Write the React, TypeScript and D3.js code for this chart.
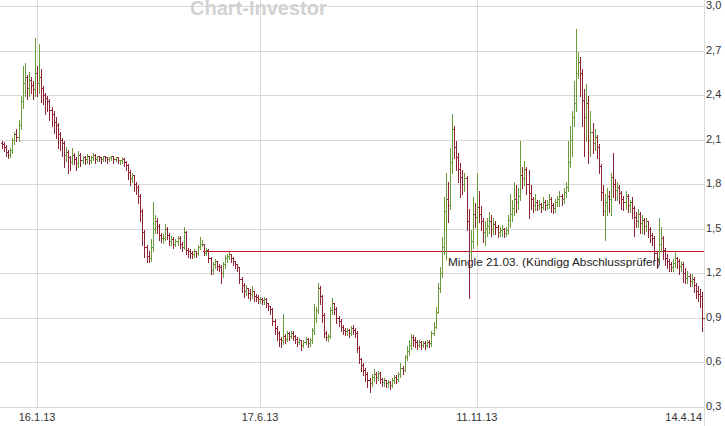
import React, { useEffect } from 'react';
import { scaleLinear, range } from 'd3';

// daily bars, first bar Mon 24.12.2012, last bar Fri 11.4.2014 (weekdays)
const startDate = '2012-12-24';

const closes: number[] = [
  2.07, 2.05, 2.02, 2.0, 2.03, 2.1, 2.14, 2.12, 2.2, 2.36,
  2.48, 2.52, 2.45, 2.5, 2.47, 2.44, 2.55, 2.48, 2.52, 2.45,
  2.4, 2.38, 2.36, 2.3, 2.27, 2.22, 2.2, 2.14, 2.1, 2.08,
  2.0, 2.02, 1.98, 1.95, 2.0, 1.97, 1.94, 2.0, 1.96, 1.98,
  1.97, 1.99, 1.96, 1.98, 2.0, 1.97, 1.99, 1.98, 1.97, 1.99,
  1.98, 1.97, 1.98, 1.99, 1.97, 1.98, 1.96, 1.96, 1.97, 1.95,
  1.93, 1.88, 1.84, 1.86, 1.8, 1.78, 1.72, 1.62, 1.48, 1.38,
  1.32, 1.3, 1.38, 1.5, 1.55, 1.52, 1.46, 1.44, 1.44, 1.5,
  1.46, 1.42, 1.43, 1.4, 1.42, 1.44, 1.4, 1.38, 1.48, 1.36,
  1.35, 1.34, 1.33, 1.35, 1.34, 1.38, 1.4, 1.4, 1.34, 1.36,
  1.3, 1.22, 1.26, 1.28, 1.25, 1.24, 1.2, 1.26, 1.3, 1.32,
  1.33, 1.3, 1.28, 1.26, 1.24, 1.16, 1.12, 1.08, 1.1, 1.07,
  1.06, 1.08, 1.05, 1.04, 1.03, 1.03, 1.02, 1.03, 1.0, 0.98,
  0.96, 0.88, 0.83, 0.8, 0.76, 0.75, 0.78, 0.76, 0.8, 0.78,
  0.8, 0.78, 0.76, 0.74, 0.75, 0.72, 0.74, 0.76, 0.73, 0.75,
  0.82, 0.9, 0.95, 1.1, 1.05, 0.92, 0.8, 0.77, 0.78, 0.95,
  1.0, 0.96, 0.9, 0.88, 0.84, 0.82, 0.81, 0.82, 0.8, 0.83,
  0.82, 0.8, 0.7, 0.62, 0.58, 0.55, 0.52, 0.48, 0.46, 0.5,
  0.52, 0.5, 0.53, 0.49, 0.47, 0.48, 0.46, 0.47, 0.45, 0.48,
  0.5, 0.49, 0.52, 0.56, 0.55, 0.64, 0.68, 0.72, 0.77, 0.75,
  0.74, 0.72, 0.74, 0.72, 0.73, 0.72, 0.74, 0.73, 0.8, 0.84,
  0.94, 1.1, 1.2, 1.38, 1.62, 1.7, 1.66, 1.95, 2.17, 2.05,
  1.98, 1.9, 1.85, 1.8, 1.84, 1.55, 1.35, 1.42, 1.6, 1.58,
  1.65, 1.6, 1.55, 1.48, 1.5, 1.52, 1.55, 1.5, 1.53, 1.51,
  1.48, 1.49, 1.5, 1.47, 1.49, 1.56, 1.6, 1.64, 1.7, 1.68,
  1.72, 1.86, 1.84, 1.9, 1.8, 1.74, 1.7, 1.66, 1.68, 1.66,
  1.67, 1.65, 1.68, 1.66, 1.67, 1.7, 1.66, 1.64, 1.68, 1.7,
  1.72, 1.7, 1.75, 1.78, 1.95, 2.1, 2.25, 2.35, 2.55, 2.62,
  2.55, 2.37, 2.25, 2.35, 2.1, 2.15, 2.08, 2.12, 2.05, 1.92,
  1.75, 1.62, 1.68, 1.72, 1.7, 1.85, 1.8, 1.76, 1.78, 1.74,
  1.7, 1.68, 1.72, 1.66, 1.68, 1.64, 1.58, 1.55, 1.6, 1.54,
  1.56, 1.52, 1.55, 1.5, 1.46, 1.44, 1.34, 1.3, 1.4, 1.44,
  1.36, 1.3, 1.28, 1.26, 1.24, 1.27, 1.3, 1.28, 1.25, 1.26,
  1.2, 1.17, 1.18, 1.15, 1.16, 1.12, 1.08, 1.06, 1.05, 0.9,
];

const highs: number[] = [
  2.1, 2.09, 2.07, 2.04, 2.05, 2.12, 2.16, 2.18, 2.24, 2.4,
  2.6, 2.62, 2.54, 2.56, 2.53, 2.5, 2.79, 2.6, 2.75, 2.58,
  2.47, 2.42, 2.4, 2.38, 2.33, 2.3, 2.26, 2.22, 2.16, 2.12,
  2.1, 2.06, 2.04, 2.0, 2.05, 2.02, 1.99, 2.03, 2.02, 2.0,
  2.0, 2.01, 2.0, 2.0, 2.02, 2.01, 2.0, 2.0, 1.99, 2.0,
  2.0, 1.99, 1.99, 2.0, 2.0, 1.99, 1.98, 1.97, 1.99, 1.98,
  1.96, 1.94, 1.9, 1.88, 1.87, 1.82, 1.8, 1.74, 1.64, 1.5,
  1.4, 1.36, 1.44, 1.69, 1.6, 1.58, 1.54, 1.48, 1.47, 1.54,
  1.52, 1.48, 1.46, 1.45, 1.44, 1.46, 1.46, 1.42, 1.52, 1.49,
  1.38, 1.37, 1.36, 1.37, 1.36, 1.4, 1.45, 1.43, 1.4, 1.38,
  1.37, 1.32, 1.28, 1.3, 1.29, 1.27, 1.26, 1.28, 1.33, 1.34,
  1.35, 1.34, 1.32, 1.29, 1.27, 1.25, 1.18, 1.14, 1.13, 1.11,
  1.1, 1.12, 1.09, 1.07, 1.06, 1.05, 1.04, 1.05, 1.04, 1.01,
  0.99, 0.97, 0.9, 0.85, 0.82, 0.78, 0.93, 0.8, 0.82, 0.81,
  0.82, 0.82, 0.79, 0.78, 0.77, 0.76, 0.76, 0.78, 0.77, 0.77,
  0.84, 1.0, 0.98, 1.14, 1.12, 1.06, 0.94, 0.82, 0.8, 0.98,
  1.04, 1.01, 0.98, 0.92, 0.9, 0.86, 0.84, 0.84, 0.83, 0.85,
  0.86, 0.84, 0.82, 0.72, 0.64, 0.6, 0.57, 0.54, 0.5, 0.53,
  0.56, 0.54, 0.55, 0.54, 0.5, 0.5, 0.49, 0.49, 0.48, 0.5,
  0.52, 0.52, 0.54, 0.6, 0.58, 0.66, 0.72, 0.76, 0.8, 0.79,
  0.78, 0.76, 0.76, 0.75, 0.75, 0.75, 0.76, 0.76, 0.82, 0.88,
  0.98, 1.14, 1.25, 1.45, 1.72, 1.88, 1.82, 2.05, 2.28, 2.2,
  2.1, 2.02, 1.95, 1.9, 1.88, 1.86, 1.64, 1.5, 1.72, 1.68,
  1.88, 1.76, 1.66, 1.58, 1.56, 1.58, 1.62, 1.6, 1.58, 1.56,
  1.53, 1.52, 1.53, 1.51, 1.52, 1.6, 1.74, 1.7, 1.82, 1.8,
  1.78, 2.1, 1.92, 1.96, 1.92, 1.9, 1.8, 1.72, 1.74, 1.7,
  1.7, 1.68, 1.72, 1.7, 1.7, 1.74, 1.72, 1.68, 1.71, 1.73,
  1.76, 1.74, 1.78, 1.82, 2.1, 2.2, 2.3, 2.5, 2.85, 2.7,
  2.66, 2.58, 2.45, 2.48, 2.4, 2.3, 2.22, 2.18, 2.14, 2.08,
  1.94, 1.8, 1.74, 1.78, 1.76, 1.88, 2.02, 1.84, 1.82, 1.8,
  1.76, 1.73, 1.76, 1.74, 1.7, 1.72, 1.66, 1.62, 1.64, 1.62,
  1.6, 1.58, 1.58, 1.56, 1.52, 1.48, 1.46, 1.36, 1.58, 1.52,
  1.46, 1.38, 1.34, 1.3, 1.28, 1.3, 1.36, 1.32, 1.3, 1.29,
  1.28, 1.24, 1.22, 1.2, 1.2, 1.18, 1.14, 1.12, 1.1, 1.08,
];

const lows: number[] = [
  2.05, 2.03, 2.0, 1.98, 1.99, 2.02, 2.08, 2.1, 2.1, 2.18,
  2.32, 2.4, 2.38, 2.4, 2.42, 2.38, 2.4, 2.4, 2.42, 2.36,
  2.35, 2.28, 2.3, 2.24, 2.2, 2.15, 2.12, 2.05, 2.04, 2.0,
  1.92, 1.96, 1.88, 1.9, 1.94, 1.94, 1.9, 1.92, 1.93, 1.95,
  1.94, 1.95, 1.94, 1.95, 1.97, 1.95, 1.96, 1.96, 1.95, 1.96,
  1.96, 1.95, 1.96, 1.97, 1.95, 1.96, 1.95, 1.94, 1.95, 1.93,
  1.9, 1.84, 1.8, 1.82, 1.76, 1.74, 1.68, 1.56, 1.4, 1.32,
  1.28, 1.28, 1.29, 1.36, 1.48, 1.48, 1.43, 1.42, 1.41, 1.43,
  1.44, 1.4, 1.4, 1.38, 1.39, 1.4, 1.38, 1.36, 1.37, 1.34,
  1.32, 1.31, 1.31, 1.32, 1.32, 1.33, 1.37, 1.39, 1.33, 1.33,
  1.28, 1.2, 1.2, 1.24, 1.23, 1.22, 1.14, 1.18, 1.24, 1.28,
  1.3, 1.28, 1.26, 1.24, 1.22, 1.14, 1.08, 1.05, 1.06, 1.04,
  1.03, 1.04, 1.02, 1.02, 1.01, 1.01, 1.0, 1.0, 0.98, 0.96,
  0.93, 0.86, 0.8, 0.76, 0.72, 0.71, 0.73, 0.74, 0.75, 0.76,
  0.77, 0.76, 0.74, 0.72, 0.73, 0.69, 0.71, 0.73, 0.71, 0.72,
  0.74, 0.8, 0.88, 0.94, 1.0, 0.88, 0.78, 0.76, 0.75, 0.77,
  0.93, 0.93, 0.87, 0.85, 0.82, 0.8, 0.79, 0.79, 0.78, 0.79,
  0.8, 0.78, 0.68, 0.6, 0.55, 0.52, 0.48, 0.44, 0.41, 0.45,
  0.48, 0.47, 0.49, 0.47, 0.45, 0.45, 0.44, 0.44, 0.43, 0.44,
  0.47, 0.47, 0.48, 0.51, 0.53, 0.55, 0.62, 0.66, 0.7, 0.72,
  0.71, 0.7, 0.71, 0.7, 0.71, 0.7, 0.71, 0.71, 0.72, 0.79,
  0.84, 0.94, 1.08, 1.18, 1.34, 1.3, 1.55, 1.64, 1.88, 1.98,
  1.9, 1.82, 1.72, 1.74, 1.76, 1.5, 1.04, 1.3, 1.38, 1.52,
  1.4, 1.55, 1.5, 1.42, 1.4, 1.46, 1.48, 1.46, 1.47, 1.47,
  1.45, 1.46, 1.46, 1.45, 1.46, 1.47, 1.52, 1.56, 1.6, 1.62,
  1.64, 1.7, 1.78, 1.8, 1.74, 1.58, 1.64, 1.62, 1.63, 1.63,
  1.64, 1.62, 1.64, 1.63, 1.64, 1.65, 1.62, 1.61, 1.62, 1.66,
  1.66, 1.67, 1.68, 1.72, 1.76, 1.92, 2.0, 2.2, 2.3, 2.52,
  2.4, 2.2, 2.0, 2.1, 1.95, 2.0, 2.02, 2.04, 1.98, 1.88,
  1.7, 1.6, 1.43, 1.6, 1.62, 1.6, 1.72, 1.7, 1.7, 1.68,
  1.64, 1.63, 1.64, 1.62, 1.62, 1.58, 1.46, 1.52, 1.52, 1.48,
  1.48, 1.47, 1.49, 1.45, 1.42, 1.4, 1.3, 1.24, 1.28, 1.36,
  1.3, 1.26, 1.24, 1.22, 1.22, 1.22, 1.25, 1.24, 1.2, 1.22,
  1.15, 1.14, 1.14, 1.12, 1.12, 1.08, 1.04, 1.02, 0.98, 0.82,
];
const firstOpen = 2.08;

const yTicks = [3.0, 2.7, 2.4, 2.1, 1.8, 1.5, 1.2, 0.9, 0.6, 0.3];
const xTickDates = ['2013-01-16', '2013-06-17', '2013-11-11', '2014-04-14'];
const xTickLabels = ['16.1.13', '17.6.13', '11.11.13', '14.4.14'];

const annotationLevel = 1.35;
const annotationFrom = '2013-05-08';
const annotationText = 'Mingle 21.03. (Kündigg Abschlussprüfer)';

const W = 725;
const H = 426;
const plotRight = 704;
const green = '#6b9a3c';
const red = '#8e2433';
const grid = '#d9d9d9';

// weekday index counted from startDate
const tradingIndex = (iso: string) => {
  const d0 = new Date(startDate + 'T12:00:00Z');
  const d1 = new Date(iso + 'T12:00:00Z');
  let n = 0;
  for (let d = new Date(d0); d < d1; d.setUTCDate(d.getUTCDate() + 1)) {
    const wd = d.getUTCDay();
    if (wd !== 0 && wd !== 6) n++;
  }
  return n;
};

const App = () => {
  useEffect(() => {
    document.body.style.margin = '0';
  }, []);

  const x = scaleLinear().domain([0, 340]).range([2, plotRight]);
  const y = scaleLinear().domain([0.3, 3.0]).range([407, 6]);
  const px = (i: number) => Math.round(x(i)) + 0.5;
  const py = (v: number) => Math.round(y(v)) + 0.5;

  const bars = range(closes.length).map((i) => {
    const open = i === 0 ? firstOpen : closes[i - 1];
    return { i, open, close: closes[i], high: highs[i], low: lows[i] };
  });

  const lineY = py(annotationLevel);
  const lineX0 = px(tradingIndex(annotationFrom));

  return (
    <svg width={W} height={H} style={{ display: 'block', background: '#fff' }}>
      <g shapeRendering="crispEdges">
        {yTicks.map((t) => (
          <line key={t} x1={0} x2={plotRight} y1={py(t)} y2={py(t)} stroke={grid} />
        ))}
        {xTickDates.map((d) => (
          <line key={d} x1={px(tradingIndex(d))} x2={px(tradingIndex(d))} y1={0} y2={py(0.3)} stroke={grid} />
        ))}
        <line x1={plotRight + 0.5} x2={plotRight + 0.5} y1={0} y2={H} stroke={grid} />
      </g>
      <text
        x={190}
        y={15}
        fontFamily="Liberation Sans, Arial, sans-serif"
        fontWeight="bold"
        fontSize={20}
        fill="#d2d2d2"
      >
        Chart-Investor
      </text>
      <line
        x1={lineX0}
        x2={plotRight}
        y1={lineY}
        y2={lineY}
        stroke="#cc1122"
        shapeRendering="crispEdges"
      />
      <g shapeRendering="crispEdges" strokeWidth={1}>
        {bars.map((b) => {
          const cx = px(b.i);
          const c = b.close >= b.open ? green : red;
          return (
            <g key={b.i} stroke={c}>
              <line x1={cx} x2={cx} y1={py(b.high)} y2={py(b.low) + 1} />
              <line x1={cx - 2} x2={cx} y1={py(b.open)} y2={py(b.open)} />
              <line x1={cx} x2={cx + 2} y1={py(b.close)} y2={py(b.close)} />
            </g>
          );
        })}
      </g>
      <text x={448} y={266} fontFamily="Liberation Sans, Arial, sans-serif" fontSize={11.8} fill="#222">
        {annotationText}
      </text>
      <g fontFamily="Liberation Sans, Arial, sans-serif" fontSize={11} fill="#333">
        {yTicks.map((t) => (
          <text key={t} x={plotRight + 2} y={y(t) + 3}>
            {t.toFixed(1).replace('.', ',')}
          </text>
        ))}
        {xTickDates.map((d, k) => {
          const tx = x(tradingIndex(d));
          const last = k === xTickDates.length - 1;
          return (
            <text key={d} x={last ? plotRight - 2 : tx} y={421} textAnchor={last ? 'end' : 'middle'}>
              {xTickLabels[k]}
            </text>
          );
        })}
      </g>
    </svg>
  );
};

export default App;
